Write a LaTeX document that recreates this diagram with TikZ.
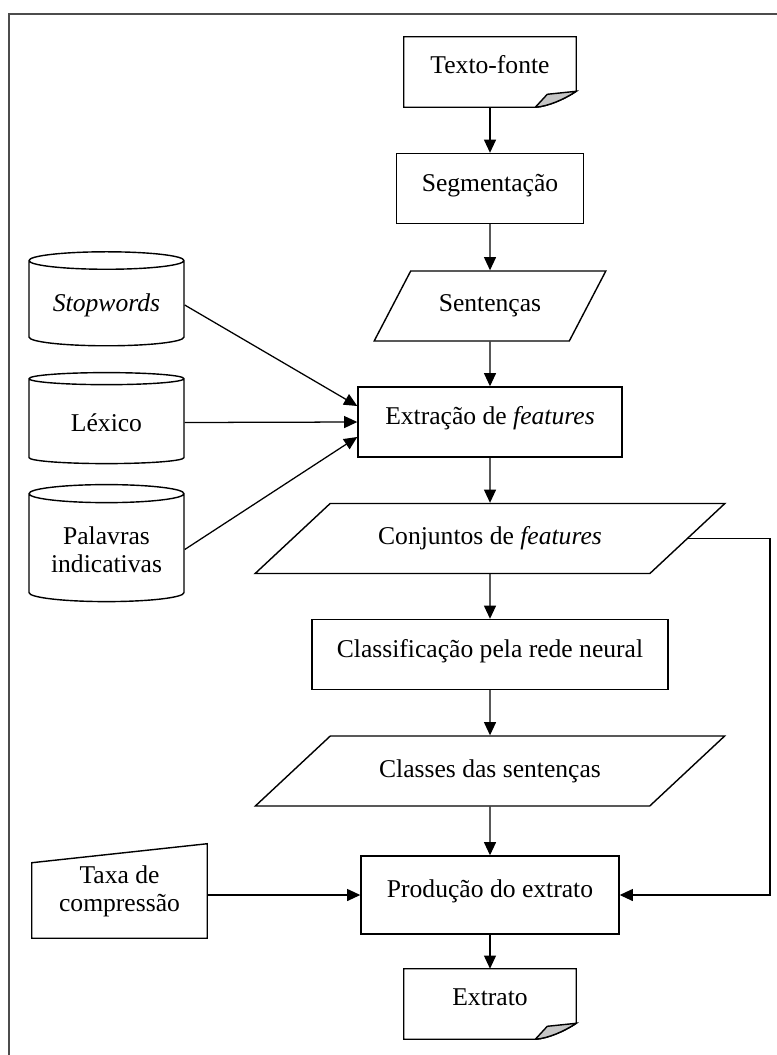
\documentclass[tikz,border=0pt]{standalone}
\usepackage{fontspec}
\setmainfont{Liberation Serif}
\usetikzlibrary{shapes.geometric,arrows.meta,positioning}

\newlength\pxu
\setlength\pxu{0.025cm}

\tikzset{
  box/.style={draw, rectangle, line width=1pt, minimum height=70\pxu,
    text height=13pt, text depth=9pt},
  dados/.style={draw, trapezium, trapezium stretches=true, line width=1pt,
    trapezium left angle=#1, trapezium right angle=180-#1, minimum height=70\pxu},
  banco/.style={draw, cylinder, shape border rotate=90, aspect=0.15, line width=1pt,
    minimum width=155\pxu, align=center},
  doc/.style={rectangle, minimum width=172\pxu, minimum height=70\pxu,
    text height=13pt, text depth=11pt},
  manual/.style={rectangle, minimum width=175\pxu, minimum height=94\pxu, align=center},
  seta/.style={line width=0.9pt, -{Triangle[length=3.3mm,width=3mm]}}
}

% contorno de documento com canto dobrado
\newcommand{\docborda}[1]{%
  \draw[line width=1pt] (#1.north west) -- (#1.north east) -- ([yshift=16\pxu]#1.south east)
    .. controls ([xshift=-12\pxu,yshift=8\pxu]#1.south east) and ([xshift=-28\pxu,yshift=1\pxu]#1.south east)
    .. ([xshift=-41\pxu]#1.south east) -- (#1.south west) -- cycle;
  \filldraw[line width=1pt, fill=gray!45] ([xshift=-41\pxu]#1.south east)
    -- ([xshift=-29\pxu,yshift=13\pxu]#1.south east) -- ([yshift=16\pxu]#1.south east)
    .. controls ([xshift=-12\pxu,yshift=8\pxu]#1.south east) and ([xshift=-28\pxu,yshift=1\pxu]#1.south east)
    .. ([xshift=-41\pxu]#1.south east);
}

\begin{document}
\begin{tikzpicture}[x=0.025cm, y=-0.025cm, font=\fontsize{18.2}{20}\selectfont]
  \useasboundingbox (0,0) rectangle (777,1055);
  \draw[line width=1.3pt, black!70] (9,1055) -- (9,14) -- (777,14);

  % fluxo principal
  \node[doc] (fonte) at (490,72) {Texto-fonte};
  \docborda{fonte}
  \node[box, minimum width=187\pxu] (segm) at (490,188.5) {Segmentação};
  \node[dados=51, minimum width=232\pxu] (sent) at (490,306) {Sentenças};
  \node[box, minimum width=264\pxu] (extr) at (490,422) {Extração de \textit{features}};
  \node[dados=31, minimum width=470\pxu] (conj) at (490,538.5) {Conjuntos de \textit{features}};
  \node[box, minimum width=356\pxu] (classif) at (490,654.5) {Classificação pela rede neural};
  \node[dados=31, minimum width=470\pxu] (classes) at (490,771) {Classes das sentenças};
  \node[box, minimum width=258\pxu, minimum height=78\pxu] (prod) at (490,895) {Produção do extrato};
  \node[doc] (extrato) at (490,1004) {Extrato};
  \docborda{extrato}

  % recursos
  \node[banco, minimum height=94\pxu] (stop) at (106.5,305) {\textit{Stopwords}};
  \node[banco, minimum height=91\pxu] (lexico) at (106.5,422.5) {Léxico};
  \node[banco, minimum height=117\pxu] (palavras) at (106.5,549.5) {Palavras\\indicativas};
  \node[manual] (taxa) at (119.5,891) {Taxa de\\compressão};
  \draw[line width=1pt] (taxa.south west) -- ([yshift=-19\pxu]taxa.north west)
    -- (taxa.north east) -- (taxa.south east) -- cycle;

  \coordinate (fb) at (770,540);

  \draw[seta] (fonte) -- (segm);
  \draw[seta] (segm) -- (sent);
  \draw[seta] (sent) -- (extr);
  \draw[seta] (extr) -- (conj);
  \draw[seta] (conj) -- (classif);
  \draw[seta] (classif) -- (classes);
  \draw[seta] (classes) -- (prod);
  \draw[seta] (prod) -- (extrato);

  \draw[seta] (stop.east) -- ([yshift=16\pxu]extr.west);
  \draw[seta] (lexico.east) -- (extr.west);
  \draw[seta] (palavras.east) -- ([yshift=-15\pxu]extr.west);
  \draw[seta] (taxa.east |- prod.west) -- (prod.west);
  \draw[seta] (conj.east) -- (conj.east -| fb) |- (prod.east);
\end{tikzpicture}
\end{document}
